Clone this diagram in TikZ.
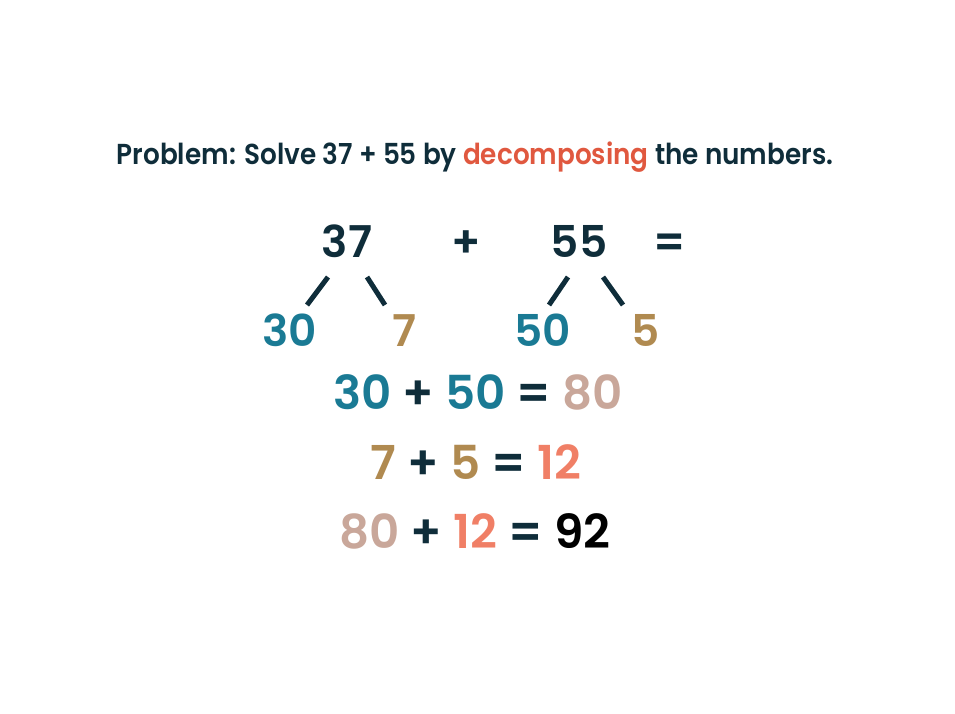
\documentclass[tikz,border=0pt]{standalone}
\usepackage{fontspec}
\setmainfont{Poppins}
\newfontfamily\titlefont{Poppins SemiBold}[FakeStretch=0.91]
\newfontfamily\numfont{Poppins SemiBold}
\usepackage{tikz}
\usetikzlibrary{calc,positioning}
\definecolor{ink}{HTML}{0F2D3A}
\definecolor{teal}{HTML}{1A7A94}
\definecolor{gold}{HTML}{B08A50}
\definecolor{rose}{HTML}{C9A79A}
\definecolor{salmon}{HTML}{F07F66}
\definecolor{accent}{HTML}{E0583F}
\tikzset{
  num/.style={font=\numfont\fontsize{44}{48}\selectfont, inner sep=0pt, anchor=base, text=ink},
  sumline/.style={font=\numfont\fontsize{47}{50}\selectfont, inner sep=0pt, anchor=base, text=ink},
  split/.style={draw=ink, line width=5bp},
}
\begin{document}
\begin{tikzpicture}[>=latex,line join=bevel,]
\useasboundingbox (0bp,0bp) rectangle (955bp,-714bp);
%%
\node (title) at (475bp,-164bp) [font=\titlefont\fontsize{29}{32}\selectfont, text=ink, inner sep=0pt, anchor=base] {Problem: Solve 37 + 55 by \textcolor{accent}{decomposing} the numbers.};
  \node (37) at (347bp,-257bp) [num] {37};
  \node (plus) at (466bp,-257bp) [num] {+};
  \node (55) at (579bp,-257bp) [num] {55};
  \node (eq) at (670bp,-257bp) [num] {=};
  \node (30) at (290bp,-346bp) [num, text=teal] {30};
  \node (7) at (405bp,-346bp) [num, text=gold] {7};
  \node (50) at (543bp,-346bp) [num, text=teal] {50};
  \node (5) at (646bp,-346bp) [num, text=gold] {5};
  \draw [split] ($(37.base)+(-19bp,-20bp)$) -- ($(30.base)+(17bp,41bp)$);
  \draw [split] ($(37.base)+(20bp,-20bp)$) -- ($(7.base)+(-20bp,41bp)$);
  \draw [split] ($(55.base)+(-11bp,-20bp)$) -- ($(50.base)+(6bp,41bp)$);
  \draw [split] ($(55.base)+(24bp,-20bp)$) -- ($(5.base)+(-23bp,41bp)$);
%
\node (tens) at (478bp,-409bp) [sumline] {\textcolor{teal}{30} + \textcolor{teal}{50} = \textcolor{rose}{80}};
  \node (ones) at (476bp,-479bp) [sumline] {\textcolor{gold}{7} + \textcolor{gold}{5} = \textcolor{salmon}{12}};
  \node (total) at (475bp,-548bp) [sumline] {\textcolor{rose}{80} + \textcolor{salmon}{12} = \textcolor{black}{92}};
%
\end{tikzpicture}
\end{document}
